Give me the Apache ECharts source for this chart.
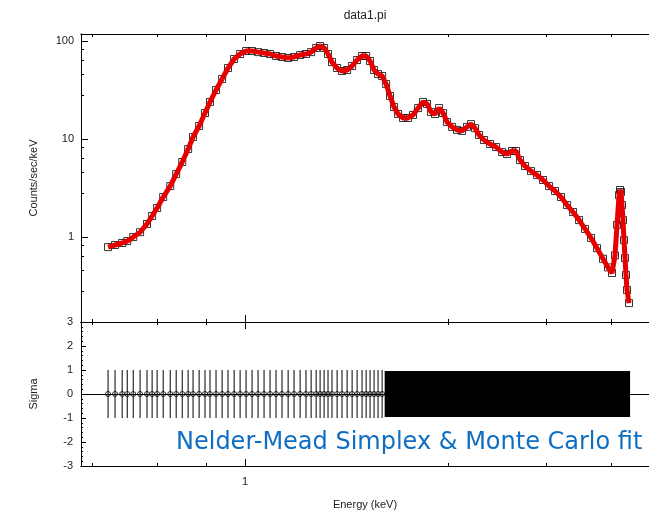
<!DOCTYPE html>
<html><head><meta charset="utf-8">
<script src="https://cdn.jsdelivr.net/npm/echarts@6/dist/echarts.min.js"></script>
<style>html,body{margin:0;padding:0;background:#fff}#c{width:649px;height:517px}</style>
</head><body><div id="c"></div>
<script>
// ---- data ----
const energy = [0.499,0.517,0.536,0.550,0.567,0.587,0.608,0.624,0.640,0.660,
  0.684,0.705,0.727,0.749,0.768,0.792,0.816,0.837,0.863,0.890,
  0.917,0.946,0.975,1.005,1.036,1.068,1.101,1.135,1.170,1.206,
  1.244,1.282,1.322,1.362,1.398,1.434,1.463,1.493,1.523,1.554,
  1.595,1.635,1.678,1.721,1.765,1.810,1.848,1.885,1.924,1.963,
  2.004,2.045,2.086,2.129,2.173,2.228,2.286,2.344,2.405,2.466,
  2.517,2.569,2.621,2.675,2.730,2.786,2.858,2.931,3.006,3.083,
  3.146,3.211,3.277,3.361,3.465,3.572,3.683,3.777,3.874,3.953,
  4.034,4.138,4.265,4.397,4.533,4.674,4.818,4.966,5.121,5.279,
  5.442,5.610,5.783,5.962,6.145,6.303,6.432,6.531,6.598,6.666,
  6.699,6.733,6.767,6.802,6.836,6.871,6.906,6.941,7.012];
const counts = [0.79,0.83,0.87,0.91,1.0,1.12,1.36,1.64,1.98,2.56,
  3.31,4.39,5.83,7.9,10.5,13.6,18.4,23.9,31.6,41,
  53,65.5,73.7,79,79,77,75.5,73.7,70.3,68.7,
  67.1,68.7,72,73.7,77,84.9,88.9,84.9,73.7,61,
  53,49.4,50.6,55.6,64,70.3,70.3,62.5,50.6,46,
  44,36.4,27.5,21.2,18,16.4,16.4,17.6,20.7,23.9,
  22.8,18.9,18,20.7,18.4,14.9,13.3,12.4,12.1,13.3,
  14.2,12.9,11.0,9.77,8.89,8.28,7.36,7.03,7.55,7.55,
  6.1,5.3,4.71,4.29,3.82,3.31,2.95,2.56,2.12,1.80,
  1.49,1.21,0.98,0.77,0.60,0.49,0.43,0.65,1.33,2.68,
  3.02,2.88,2.12,1.49,0.93,0.61,0.41,0.288,0.212];
// residuals (sigma) at the sparse low-energy bins, all read as 0 with +-1 error
const resEnergy = [0.499,0.517,0.536,0.550,0.567,0.587,0.608,0.624,0.640,0.660,
  0.684,0.705,0.727,0.749,0.768,0.792,0.816,0.837,0.863,0.890,
  0.917,0.946,0.975,1.005,1.036,1.068,1.101,1.135,1.170,1.206,
  1.244,1.282,1.322,1.362,1.398,1.434,1.463,1.493,1.523,1.554,
  1.595,1.635,1.678,1.721,1.765,1.810,1.848,1.885,1.924,1.963,2.004];
const resSigma = [0,0,0,0,0,0,0,0,0,0, 0,0,0,0,0,0,0,0,0,0,
  0,0,0,0,0,0,0,0,0,0, 0,0,0,0,0,0,0,0,0,0, 0,0,0,0,0,0,0,0,0,0,0];
const resError = 1;
// energy range where the residual error bars merge into a solid block [E0,E1,low,high]
const denseBlock = [[2.03, 7.05, -0.96, 0.96]];
// ticks
const xMinorTicks = [0.46,0.64,0.82,2.8,4.6,6.4];
const xMajorTicks = [1];
const yMinorTicks = [0.28,0.46,0.64,0.82,2.8,4.6,6.4,8.2,28,46,64,82];
const yMajorTicks = [1,10,100];
const xRange = [0.435, 7.76];
const yRange = [0.136, 117.9];

// ---- chart ----
const FONT = 'Liberation Sans';
const lg = v => Math.log10(v);
const G0 = {left:81, right:0, top:34, height:288, show:false};
const G1 = {left:81, right:0, top:322, height:144, show:false};

function tickX(grid, pos, ticks, len, extra) {
  return Object.assign({
    type:'value', gridIndex:grid, position:pos, min:lg(xRange[0]), max:lg(xRange[1]),
    axisLine:{show:true, onZero:false, lineStyle:{color:'#000', width:1}},
    axisTick:{show:true, inside:true, length:len, customValues:ticks.map(lg), lineStyle:{color:'#000'}},
    axisLabel:{show:false}, splitLine:{show:false}
  }, extra||{});
}
function tickY(ticks, len, extra) {
  return Object.assign({
    type:'value', gridIndex:0, position:'left', min:lg(yRange[0]), max:lg(yRange[1]),
    axisLine:{show:true, onZero:false, lineStyle:{color:'#000', width:1}},
    axisTick:{show:true, inside:true, length:len, customValues:ticks.map(lg), lineStyle:{color:'#000'}},
    axisLabel:{show:false}, splitLine:{show:false}
  }, extra||{});
}

const xAxis = [
  {type:'log', gridIndex:0, min:xRange[0], max:xRange[1], show:false},
  {type:'log', gridIndex:1, min:xRange[0], max:xRange[1], show:false},
  tickX(0,'bottom',xMinorTicks,3), tickX(0,'bottom',xMajorTicks,7),
  tickX(0,'top',xMinorTicks,3), tickX(0,'top',xMajorTicks,7),
  tickX(1,'top',xMinorTicks,3), tickX(1,'top',xMajorTicks,7),
  tickX(1,'bottom',xMinorTicks,3),
  tickX(1,'bottom',xMajorTicks,7,{
    axisLabel:{show:true, customValues:xMajorTicks.map(lg), formatter:v=>String(Math.round(Math.pow(10,v))),
      margin:10, color:'#222', fontSize:11, fontFamily:FONT},
    name:'Energy (keV)', nameLocation:'middle', nameGap:33,
    nameTextStyle:{color:'#222', fontSize:11, fontFamily:FONT}
  })
];
const yAxis = [
  {type:'log', gridIndex:0, min:yRange[0], max:yRange[1], show:false},
  tickY(yMinorTicks,3),
  tickY(yMajorTicks,7,{
    axisLabel:{show:true, customValues:yMajorTicks.map(lg), formatter:v=>String(Math.round(Math.pow(10,v))),
      margin:7, color:'#222', fontSize:11, fontFamily:FONT},
    name:'Counts/sec/keV', nameLocation:'middle', nameGap:42,
    nameTextStyle:{color:'#222', fontSize:11, fontFamily:FONT}
  }),
  {type:'value', gridIndex:1, position:'left', min:-3, max:3, interval:1,
    axisLine:{show:true, onZero:false, lineStyle:{color:'#000'}},
    axisTick:{show:true, inside:true, length:5, lineStyle:{color:'#000'}},
    minorTick:{show:true, splitNumber:5, length:2, lineStyle:{color:'#000'}},
    axisLabel:{margin:8, color:'#222', fontSize:11, fontFamily:FONT},
    splitLine:{show:false}, minorSplitLine:{show:false},
    name:'Sigma', nameLocation:'middle', nameGap:42,
    nameTextStyle:{color:'#222', fontSize:11, fontFamily:FONT}}
];

const pts = energy.map((e,i)=>[e, counts[i]]);
const res = resEnergy.map((e,i)=>[e, resSigma[i], resError]);

const option = {
  animation:false,
  backgroundColor:'#fff',
  title:{text:'data1.pi', left:360, top:5, textAlign:'center',
    textStyle:{fontSize:12, fontWeight:'normal', color:'#222', fontFamily:FONT}},
  grid:[Object.assign({outerBoundsMode:'none'},G0), Object.assign({outerBoundsMode:'none'},G1)],
  xAxis, yAxis,
  graphic:[{type:'text', left:176, top:431, z:100,
    style:{text:'Nelder-Mead Simplex & Monte Carlo fit', fill:'#0f6ec2', font:'24px "DejaVu Sans"'}}],
  series:[
    {type:'scatter', xAxisIndex:0, yAxisIndex:0, data:pts, symbol:'rect', symbolSize:7,
      itemStyle:{color:'rgba(0,0,0,0)', borderColor:'#000', borderWidth:1}, z:2},
    {type:'line', xAxisIndex:0, yAxisIndex:0, data:pts, showSymbol:false, symbol:'none',
      lineStyle:{color:'#e60000', width:5}, z:3},
    {type:'custom', xAxisIndex:1, yAxisIndex:3, data:res, z:2,
      renderItem:(params, api)=>{
        const x=api.value(0), v=api.value(1), e=api.value(2);
        const a=api.coord([x, v+e]), b=api.coord([x, v-e]);
        return {type:'line', shape:{x1:a[0], y1:a[1], x2:b[0], y2:b[1]}, style:{stroke:'#000', lineWidth:1}};
      },
      markLine:{silent:true, symbol:['none','none'], label:{show:false},
        lineStyle:{color:'#000', width:1, type:'solid'}, data:[{yAxis:0}]}
    },
    {type:'custom', xAxisIndex:1, yAxisIndex:3, data:denseBlock, z:2,
      renderItem:(params, api)=>{
        const a=api.coord([api.value(0), api.value(3)]), b=api.coord([api.value(1), api.value(2)]);
        return {type:'rect', shape:{x:a[0], y:a[1], width:b[0]-a[0], height:b[1]-a[1]}, style:{fill:'#000'}};
      }},
    {type:'scatter', xAxisIndex:1, yAxisIndex:3, data:res, symbol:'circle', symbolSize:5,
      itemStyle:{color:'rgba(0,0,0,0)', borderColor:'#000', borderWidth:1}, z:3}
  ]
};
const chart = echarts.init(document.getElementById('c'), null, {renderer:'canvas'});
chart.setOption(option);
</script></body></html>
